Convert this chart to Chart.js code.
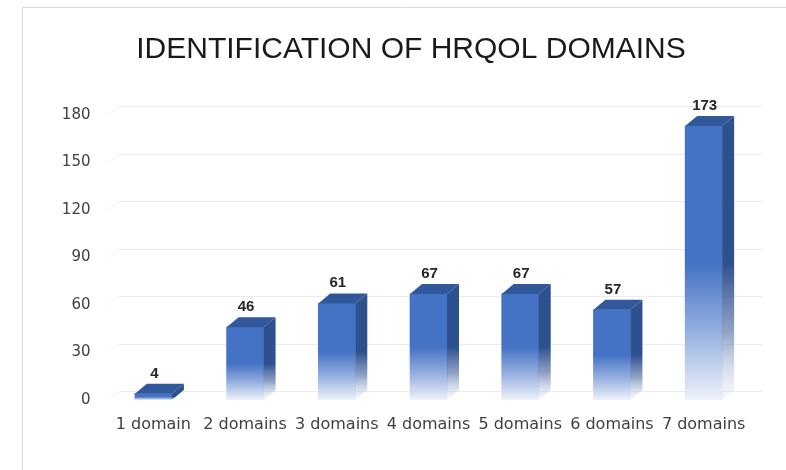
<!DOCTYPE html>
<html>
<head>
<meta charset="utf-8">
<script src="https://cdn.jsdelivr.net/npm/chart.js@4"></script>
<style>
  html, body { margin: 0; padding: 0; background: #fff; }
  #wrap { width: 786px; height: 470px; }
</style>
</head>
<body>
<div id="wrap"><canvas id="chartDomains" width="786" height="470"></canvas></div>
<script>
const categories = ['1 domain', '2 domains', '3 domains', '4 domains', '5 domains', '6 domains', '7 domains']
const counts     = [4, 46, 61, 67, 67, 57, 173]
const yTickVals  = [0, 30, 60, 90, 120, 150, 180]
const titulo     = 'IDENTIFICATION OF HRQOL DOMAINS'

const azulFrente = '#4472c4'
const azulLado   = 'rgb(45,80,142)'
const azulTapa   = 'rgb(50,88,156)'
const gridColor  = '#ececec'
const tickColor  = '#404040'
const depthX  = 12
const depthY  = 10
const gridDY  = 9

function fadeGradient (ctx, top, bot, color, mid, end) {
  const g = ctx.createLinearGradient(0, top, 0, bot)
  g.addColorStop(0, color)
  g.addColorStop(0.5, color)
  g.addColorStop(0.75, mid)
  g.addColorStop(1, end)
  return g
}

// ── Marco, titulo, rejilla de fondo, caras 3D y etiquetas ──
const bars3d = {
  id: 'bars3d',
  beforeDraw (chart) {
    const ctx = chart.ctx
    ctx.save()
    ctx.fillStyle = '#fff'
    ctx.fillRect(0, 0, chart.width, chart.height)
    ctx.strokeStyle = '#d9d9d9'
    ctx.lineWidth = 1
    ctx.beginPath()
    ctx.moveTo(22.5, chart.height)
    ctx.lineTo(22.5, 7.5)
    ctx.lineTo(chart.width, 7.5)
    ctx.stroke()
    ctx.fillStyle = '#1a1a1a'
    ctx.font = '30px "Liberation Sans"'
    ctx.textAlign = 'center'
    ctx.textBaseline = 'alphabetic'
    ctx.fillText(titulo, 411, 58)
    ctx.restore()
  },
  beforeDatasetsDraw (chart) {
    const ctx = chart.ctx
    const ys = chart.scales.y
    const area = chart.chartArea
    ctx.save()
    ctx.lineWidth = 1
    yTickVals.forEach(v => {
      const yf = ys.getPixelForValue(v)
      const y = Math.round(yf - gridDY) + 0.5
      ctx.strokeStyle = '#f3f3f3'
      ctx.beginPath()
      ctx.moveTo(area.left, yf)
      ctx.lineTo(area.left + depthX, y)
      ctx.stroke()
      ctx.strokeStyle = gridColor
      ctx.beginPath()
      ctx.moveTo(area.left + depthX, y)
      ctx.lineTo(area.right + depthX + 1, y)
      ctx.stroke()
    })
    ctx.restore()
  },
  afterDatasetsDraw (chart) {
    const ctx = chart.ctx
    const meta = chart.getDatasetMeta(0)
    ctx.save()
    meta.data.forEach((bar, i) => {
      const L = bar.x - bar.width / 2
      const R = bar.x + bar.width / 2
      const top = bar.y
      const base = bar.base
      // lateral
      ctx.fillStyle = fadeGradient(ctx, top, base, azulLado, 'rgba(70,100,160,0.6)', 'rgba(215,224,240,0.2)')
      ctx.beginPath()
      ctx.moveTo(R, top)
      ctx.lineTo(R + depthX, top - depthY)
      ctx.lineTo(R + depthX, base - depthY)
      ctx.lineTo(R, base)
      ctx.closePath()
      ctx.fill()
      // tapa
      ctx.fillStyle = azulTapa
      ctx.beginPath()
      ctx.moveTo(L, top)
      ctx.lineTo(L + depthX, top - depthY)
      ctx.lineTo(R + depthX, top - depthY)
      ctx.lineTo(R, top)
      ctx.closePath()
      ctx.fill()
      // etiqueta
      ctx.fillStyle = '#262626'
      ctx.font = 'bold 15px "Liberation Sans"'
      ctx.textAlign = 'center'
      ctx.textBaseline = 'alphabetic'
      ctx.fillText(String(counts[i]), bar.x + 1, top - 16)
    })
    ctx.restore()
  }
}

new Chart(document.getElementById('chartDomains'), {
  type: 'bar',
  data: {
    labels: categories,
    datasets: [{
      label: 'Domains',
      data: counts,
      backgroundColor: c => {
        const chart = c.chart
        if (!chart.chartArea || c.raw === undefined) return azulFrente
        const ys = chart.scales.y
        return fadeGradient(chart.ctx, ys.getPixelForValue(c.raw), ys.getPixelForValue(0), azulFrente,
          '#94afdf', '#eef2fa')
      },
      borderWidth: 0,
      barThickness: 37
    }]
  },
  options: {
    responsive: false,
    animation: false,
    layout: { padding: { left: 20, right: 36.5, top: 115, bottom: 0 } },
    scales: {
      y: {
        min: 0,
        max: 180,
        afterBuildTicks: s => { s.ticks = yTickVals.map(v => ({ value: v })) },
        afterFit: s => { s.width = 87.5 },
        border: { display: false },
        grid: { display: false, drawTicks: false },
        ticks: { color: tickColor, padding: 17, font: { family: 'DejaVu Sans', size: 15 } }
      },
      x: {
        afterFit: s => { s.height = 70 },
        border: { display: false },
        grid: { display: false, drawTicks: false },
        ticks: { color: tickColor, padding: 15, maxRotation: 0, font: { family: 'DejaVu Sans', size: 16 } }
      }
    },
    plugins: {
      legend: { display: false },
      tooltip: { enabled: false },
      title: { display: false }
    }
  },
  plugins: [bars3d]
})
</script>
</body>
</html>
